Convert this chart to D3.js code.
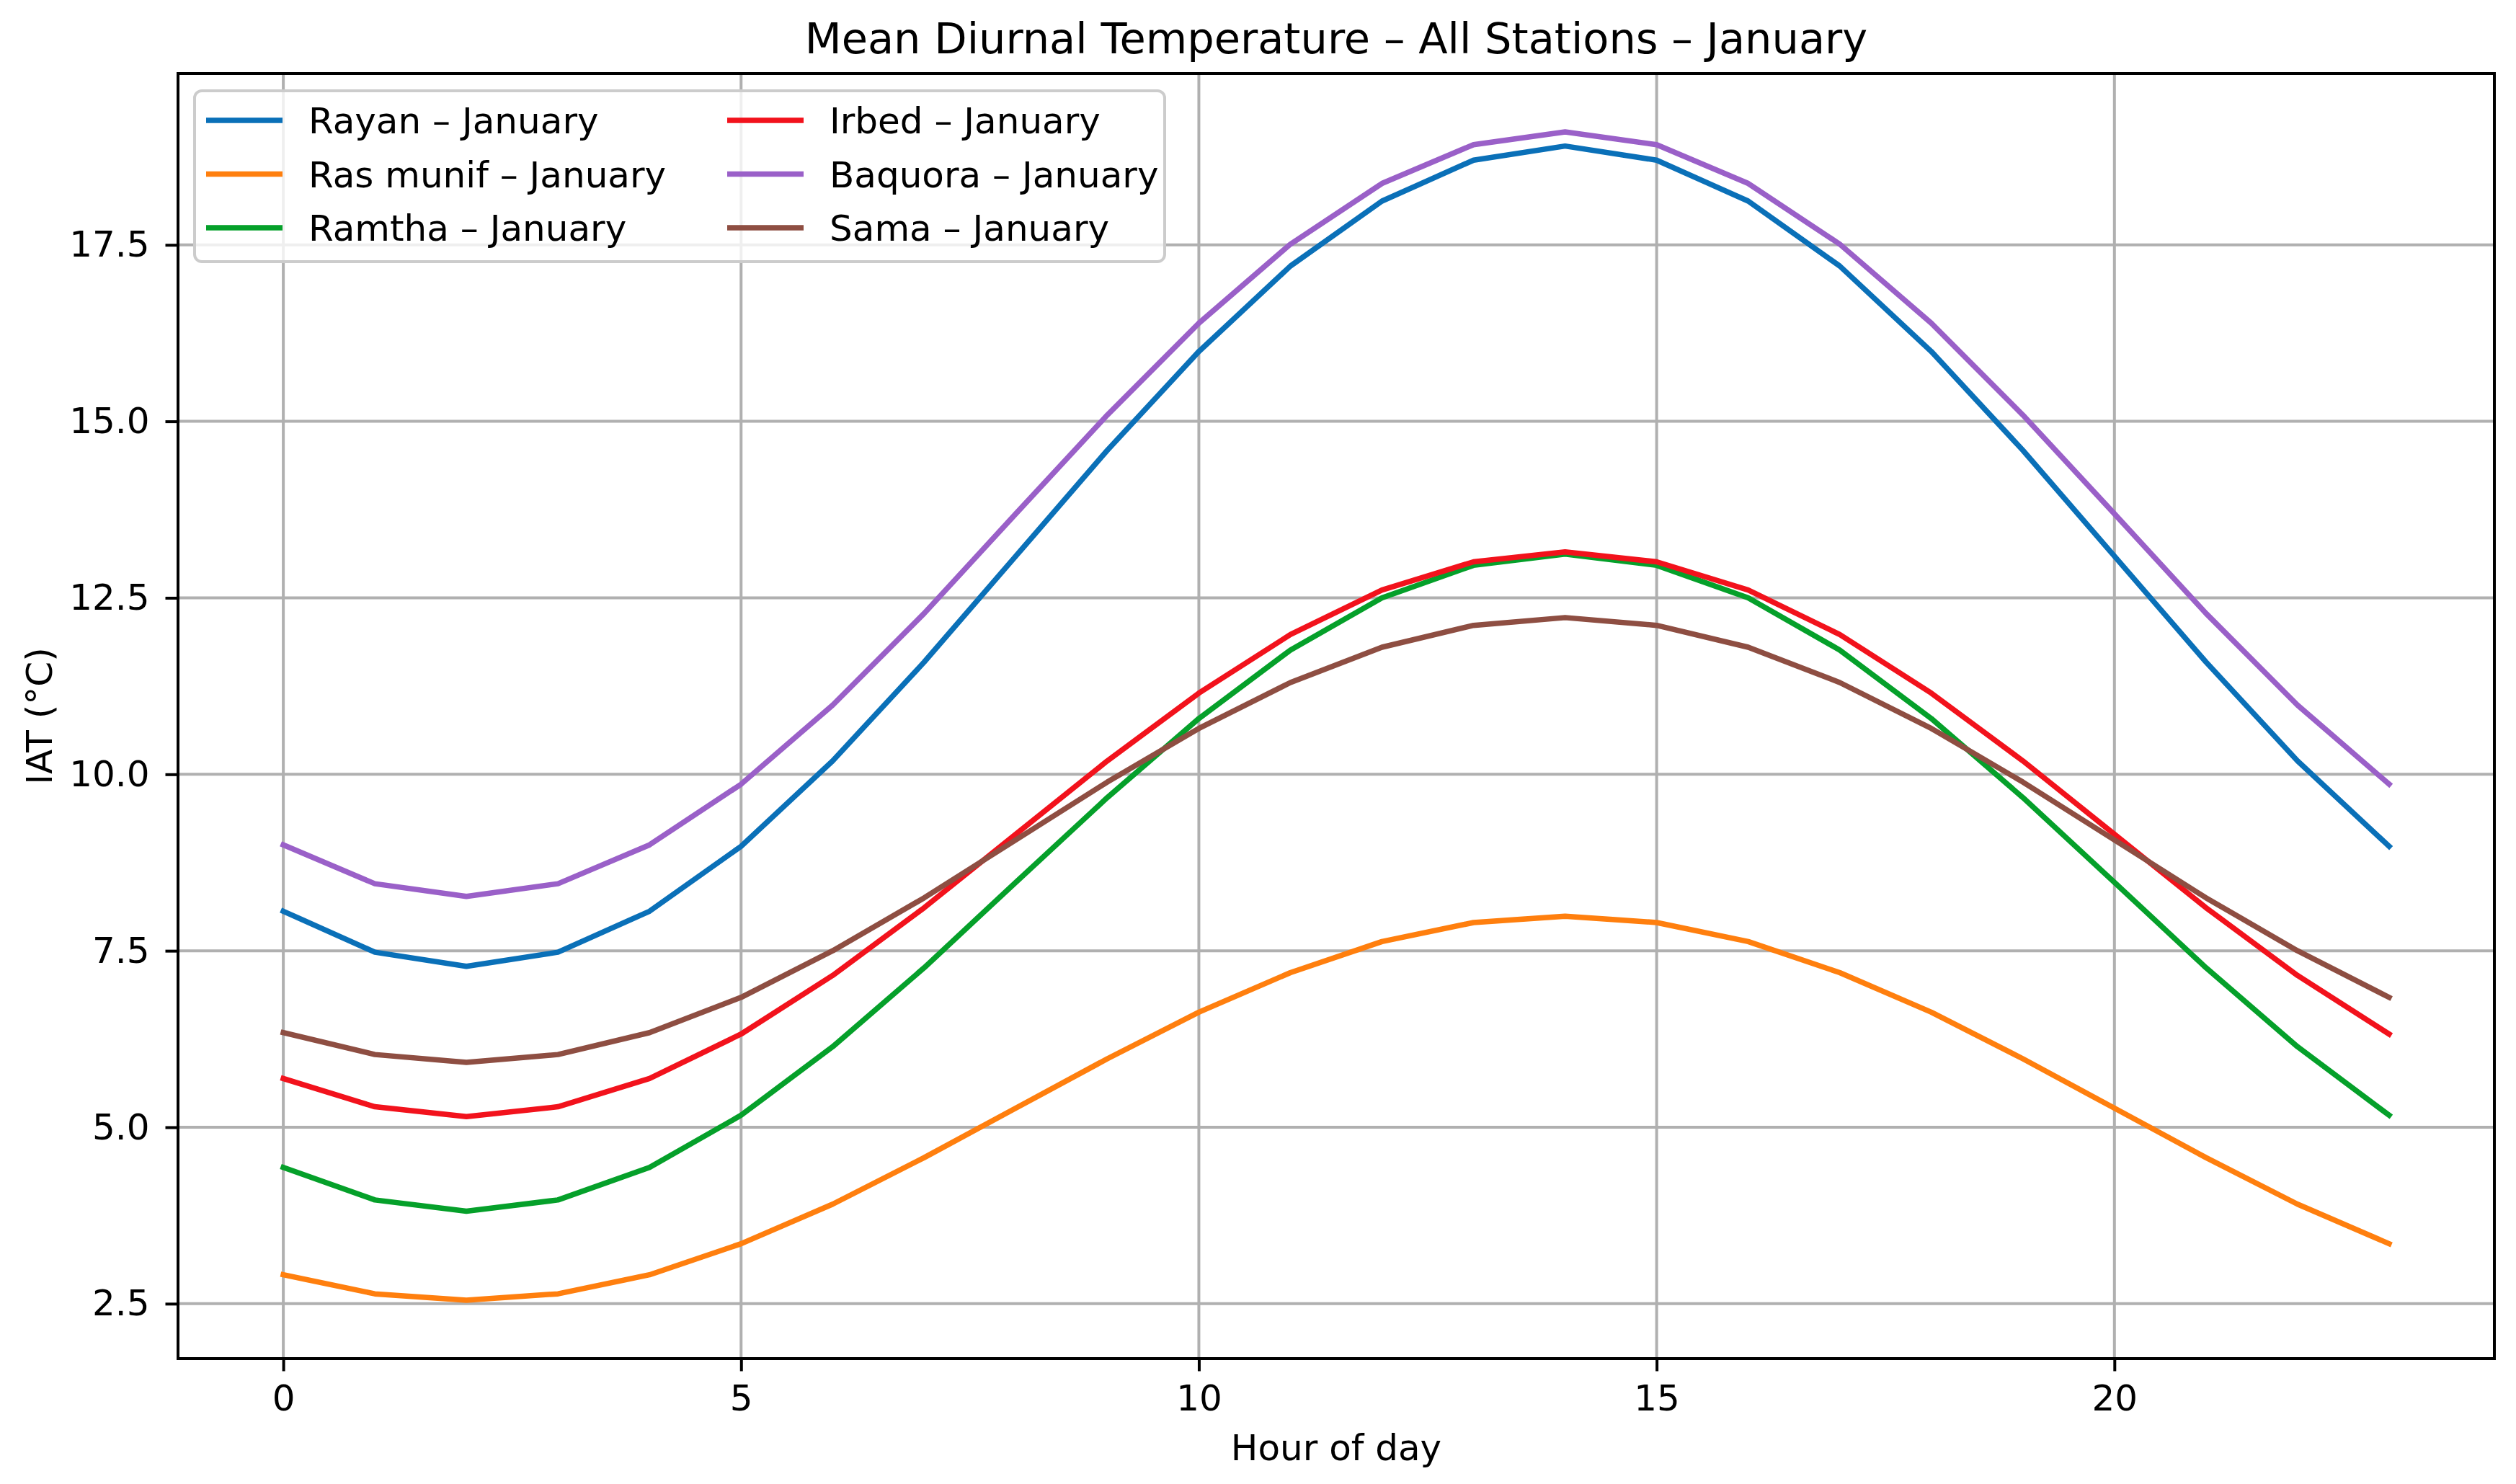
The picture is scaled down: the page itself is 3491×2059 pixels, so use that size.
<!DOCTYPE html>
<html>
<head>
<meta charset="utf-8">
<script src="https://cdn.jsdelivr.net/npm/d3@7"></script>
<style>
  body { margin: 0; background: #fff; }
  text { font-family: "DejaVu Sans", sans-serif; fill: #000; }
</style>
</head>
<body>
<svg id="chart"></svg>
<script>
// data
var hours = d3.range(0, 24);
var rayan    = [8.06, 7.48, 7.28, 7.48, 8.06, 8.98, 10.19, 11.59, 13.09, 14.59, 15.99, 17.20, 18.12, 18.70, 18.90, 18.70, 18.12, 17.20, 15.99, 14.59, 13.09, 11.59, 10.19, 8.98];
var rasMunif = [2.91, 2.64, 2.55, 2.64, 2.91, 3.35, 3.91, 4.57, 5.27, 5.97, 6.63, 7.19, 7.63, 7.90, 7.99, 7.90, 7.63, 7.19, 6.63, 5.97, 5.27, 4.57, 3.91, 3.35];
var ramtha   = [4.43, 3.97, 3.81, 3.97, 4.43, 5.17, 6.14, 7.26, 8.47, 9.67, 10.79, 11.76, 12.50, 12.96, 13.12, 12.96, 12.50, 11.76, 10.79, 9.67, 8.47, 7.26, 6.14, 5.17];
var irbed    = [5.69, 5.29, 5.15, 5.29, 5.69, 6.32, 7.15, 8.11, 9.15, 10.19, 11.15, 11.98, 12.61, 13.01, 13.15, 13.01, 12.61, 11.98, 11.15, 10.19, 9.15, 8.11, 7.15, 6.32];
var baquora  = [9.00, 8.45, 8.27, 8.45, 9.00, 9.86, 10.98, 12.28, 13.69, 15.09, 16.39, 17.51, 18.37, 18.92, 19.10, 18.92, 18.37, 17.51, 16.39, 15.09, 13.69, 12.28, 10.98, 9.86];
var sama     = [6.34, 6.03, 5.92, 6.03, 6.34, 6.84, 7.50, 8.25, 9.07, 9.89, 10.65, 11.30, 11.80, 12.11, 12.22, 12.11, 11.80, 11.30, 10.65, 9.89, 9.07, 8.25, 7.50, 6.84];

var names  = ["Rayan – January", "Ras munif – January", "Ramtha – January",
              "Irbed – January", "Baquora – January", "Sama – January"];
var values = [rayan, rasMunif, ramtha, irbed, baquora, sama];
var colors = ["#0a70b8", "#ff7f0e", "#05a02a", "#f2121c", "#9a60c8", "#8e4e42"];

var xTicks = [0, 5, 10, 15, 20];
var yTicks = [2.5, 5.0, 7.5, 10.0, 12.5, 15.0, 17.5];

var W = 3491, H = 2059;
var plotL = 247, plotR = 3461, plotT = 102, plotB = 1885;

var svg = d3.select("#chart")
    .attr("width", W)
    .attr("height", H);

// matplotlib style 5% margins
var xPad = (d3.max(hours) - d3.min(hours)) * 0.05;
var allV = d3.merge(values);
var yMin = d3.min(allV), yMax = d3.max(allV);
var yPad = (yMax - yMin) * 0.05;

var xScale = d3.scaleLinear()
    .domain([d3.min(hours) - xPad, d3.max(hours) + xPad])
    .range([plotL, plotR]);
var yScale = d3.scaleLinear()
    .domain([yMin - yPad, yMax + yPad])
    .range([plotB, plotT]);

// grid
svg.append("g").selectAll("line")
    .data(xTicks).enter().append("line")
    .attr("x1", d => xScale(d)).attr("x2", d => xScale(d))
    .attr("y1", plotT).attr("y2", plotB)
    .style("stroke", "#b0b0b0").style("stroke-width", 4);
svg.append("g").selectAll("line")
    .data(yTicks).enter().append("line")
    .attr("x1", plotL).attr("x2", plotR)
    .attr("y1", d => yScale(d)).attr("y2", d => yScale(d))
    .style("stroke", "#b0b0b0").style("stroke-width", 4);

// lines
var line = d3.line()
    .x((d, i) => xScale(hours[i]))
    .y(d => yScale(d));

svg.append("g").selectAll("path")
    .data(values).enter().append("path")
    .attr("d", line)
    .style("fill", "none")
    .style("stroke", (d, i) => colors[i])
    .style("stroke-width", 7.5)
    .style("stroke-linejoin", "round")
    .style("stroke-linecap", "square");

// axes
var xAxis = svg.append("g")
    .attr("transform", "translate(0," + plotB + ")")
    .call(d3.axisBottom(xScale).tickValues(xTicks).tickSize(17.5).tickSizeOuter(0).tickPadding(19));
var yAxis = svg.append("g")
    .attr("transform", "translate(" + plotL + ",0)")
    .call(d3.axisLeft(yScale).tickValues(yTicks).tickFormat(d3.format(".1f")).tickSize(17.5).tickSizeOuter(0).tickPadding(22));

[xAxis, yAxis].forEach(function(a) {
    a.select(".domain").remove();
    a.selectAll(".tick line").style("stroke", "#000").style("stroke-width", 4);
    a.selectAll(".tick text")
        .style("font-family", "DejaVu Sans")
        .style("font-size", "50px")
        .style("fill", "#000");
});

// frame
svg.append("rect")
    .attr("x", plotL).attr("y", plotT)
    .attr("width", plotR - plotL).attr("height", plotB - plotT)
    .style("fill", "none")
    .style("stroke", "#000")
    .style("stroke-width", 4);

// legend
var legend = svg.append("g");
legend.append("rect")
    .attr("x", 270).attr("y", 126)
    .attr("width", 1346).attr("height", 237)
    .attr("rx", 10).attr("ry", 10)
    .style("fill", "#fff").style("fill-opacity", 0.8)
    .style("stroke", "#cccccc").style("stroke-width", 4);

var colX = [286, 1009];
var rowY = [167, 241.5, 316];
var item = legend.selectAll(".item")
    .data(names).enter().append("g")
    .attr("class", "item")
    .attr("transform", (d, i) => "translate(" + colX[Math.floor(i / 3)] + "," + rowY[i % 3] + ")");
item.append("line")
    .attr("x1", 0).attr("x2", 106)
    .style("stroke", (d, i) => colors[i])
    .style("stroke-width", 7.5);
item.append("text")
    .attr("x", 142)
    .attr("dy", "0.36em")
    .style("font-size", "50px")
    .text(d => d);

// title and labels
svg.append("text")
    .attr("x", (plotL + plotR) / 2)
    .attr("y", 74)
    .attr("text-anchor", "middle")
    .style("font-size", "59px")
    .text("Mean Diurnal Temperature – All Stations – January");

svg.append("text")
    .attr("x", (plotL + plotR) / 2)
    .attr("y", 2026)
    .attr("text-anchor", "middle")
    .style("font-size", "50px")
    .text("Hour of day");

svg.append("text")
    .attr("text-anchor", "middle")
    .attr("transform", "translate(72," + (plotT + plotB) / 2 + ")rotate(-90)")
    .style("font-size", "50px")
    .text("IAT (°C)");
</script>
</body>
</html>
